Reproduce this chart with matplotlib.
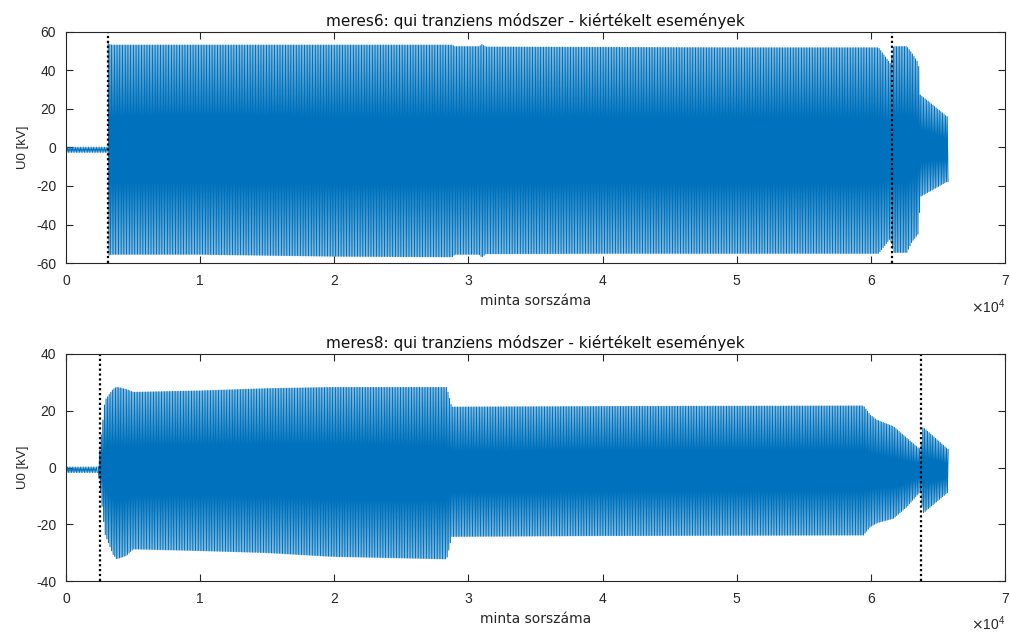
import numpy as np
import matplotlib
matplotlib.use('Agg')
import matplotlib.pyplot as plt

plt.rcParams['font.family'] = ['Liberation Sans', 'DejaVu Sans']
plt.rcParams['axes.unicode_minus'] = False

# ---------------- data ----------------
titles = ["meres6: qui tranziens módszer - kiértékelt események",
          "meres8: qui tranziens módszer - kiértékelt események"]
xlabel = "minta sorszáma"
ylabel = "U0 [kV]"
xtick_vals = [0, 10000, 20000, 30000, 40000, 50000, 60000, 70000]
xtick_labels = ["0", "1", "2", "3", "4", "5", "6", "7"]
yticks_top = [-60, -40, -20, 0, 20, 40, 60]
yticks_bot = [-40, -20, 0, 20, 40]

# event markers (sample index)
events_top = [3154, 61570]
events_bot = [2535, 63758]

# pre-trigger noise band (sample index, upper, lower)
pre_x_top = [0, 3154]
pre_up_top = [0.2, 0.2]
pre_lo_top = [-2.6, -2.6]
pre_x_bot = [0, 2400]
pre_up_bot = [0.2, 0.2]
pre_lo_bot = [-1.8, -1.8]

# oscillation envelope - meres6
env_x_top = [3154, 3400, 10000, 20000, 28800, 29000, 30800, 31000, 31300,
             40000, 50000, 60577, 61447, 61693, 62690, 63063, 63557, 63684,
             65674, 65800]
env_up_top = [54.0, 53.2, 53.2, 53.2, 53.2, 52.4, 52.4, 53.5, 52.2,
              52.0, 51.8, 51.8, 43.7, 52.4, 52.4, 48.9, 43.7, 27.3,
              16.0, 16.0]
env_lo_top = [-56.0, -55.5, -55.5, -56.5, -56.8, -55.5, -55.5, -57.0, -55.2,
              -55.0, -55.0, -55.0, -47.2, -54.5, -54.5, -49.0, -44.6, -25.5,
              -17.7, -17.7]

# oscillation envelope - meres8
env_x_bot = [2400, 2535, 2908, 3500, 3778, 4500, 5021, 10000, 15000, 19687,
             28135, 28390, 28760, 40000, 59456, 59955, 60452, 61693, 62690,
             63557, 63700, 63883, 65794]
env_up_bot = [0.2, 7.0, 23.6, 27.5, 28.3, 27.5, 26.5, 27.0, 27.8, 28.2,
              28.2, 28.2, 21.3, 21.5, 21.7, 18.5, 16.7, 14.4, 10.3,
              6.8, 6.5, 14.2, 6.2]
env_lo_bot = [-1.8, -6.4, -23.4, -30.5, -32.2, -31.0, -28.7, -29.3, -30.0, -31.3,
              -32.2, -32.2, -24.3, -24.0, -23.8, -20.9, -19.5, -17.9, -13.8,
              -9.1, -9.0, -16.1, -8.5]

period_main = 118   # samples per oscillation cycle
period_pre = 120

line_color = '#0072BD'
axis_color = '#262626'


def waveform(xs, up, lo, period):
    t = np.arange(xs[0], xs[-1], period / 2.0)
    u = np.interp(t, xs, up)
    l = np.interp(t, xs, lo)
    y = np.where(np.arange(len(t)) % 2 == 0, u, l)
    return t, y


fig = plt.figure(figsize=(10.1, 6.33), dpi=100)
ax1 = fig.add_axes([0.0653, 0.5845, 0.9297, 0.365])
ax2 = fig.add_axes([0.0653, 0.0821, 0.9297, 0.3587])

panels = [
    (ax1, titles[0], pre_x_top, pre_up_top, pre_lo_top, env_x_top, env_up_top,
     env_lo_top, events_top, yticks_top, (-60, 60)),
    (ax2, titles[1], pre_x_bot, pre_up_bot, pre_lo_bot, env_x_bot, env_up_bot,
     env_lo_bot, events_bot, yticks_bot, (-40, 40)),
]

for (ax, title, px, pu, pl, ex, eu, el, ev, yt, ylim) in panels:
    t0, y0 = waveform(px, pu, pl, period_pre)
    t1, y1 = waveform(ex, eu, el, period_main)
    ax.plot(t0, y0, color=line_color, lw=0.6)
    ax.plot(t1, y1, color=line_color, lw=0.75)
    for e in ev:
        ax.axvline(e, color='k', ls=(0, (1, 1.2)), lw=1.6)
    ax.set_xlim(0, 70000)
    ax.set_ylim(*ylim)
    ax.set_xticks(xtick_vals)
    ax.set_xticklabels(xtick_labels)
    ax.set_yticks(yt)
    ax.tick_params(direction='in', top=True, right=True, length=5, width=0.8,
                   colors=axis_color, labelsize=10)
    ax.tick_params(axis='x', pad=8)
    ax.tick_params(axis='y', pad=7)
    for s in ax.spines.values():
        s.set_color(axis_color)
        s.set_linewidth(0.8)
    ax.set_title(title, fontsize=11, color='#111111', pad=4,
                 family=['DejaVu Sans'])
    ax.set_xlabel(xlabel, fontsize=10, color=axis_color, labelpad=4,
                  family=['DejaVu Sans'])
    ax.set_ylabel(ylabel, fontsize=9.5, color=axis_color, labelpad=5)
    ax.text(1.0, -0.19, r'$\times\mathregular{10^{4}}$', transform=ax.transAxes,
            ha='right', va='center', fontsize=10, color=axis_color)

fig.savefig('out.png', dpi=100)
